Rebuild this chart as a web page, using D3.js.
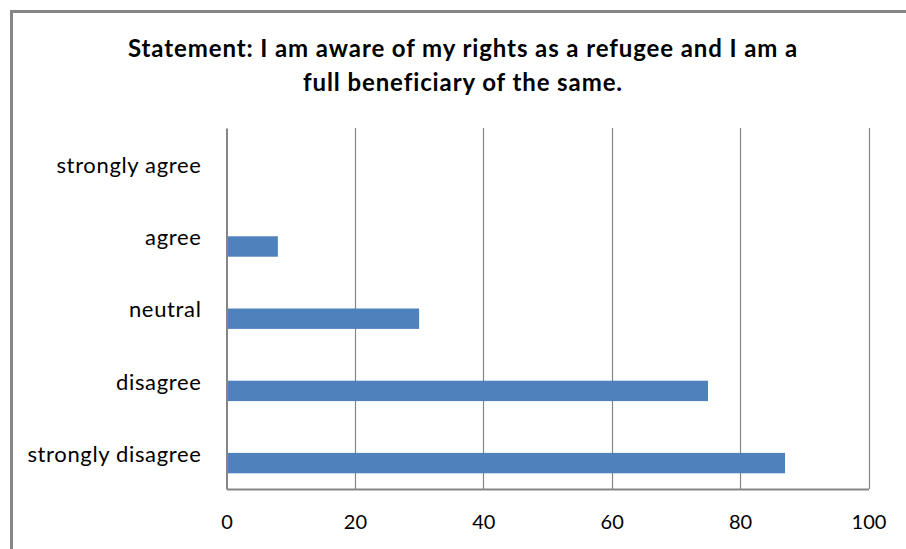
<!DOCTYPE html>
<html>
<head>
<meta charset="utf-8">
<script src="https://cdn.jsdelivr.net/npm/d3@7"></script>
<style>
  html, body { margin: 0; padding: 0; background: #fff; }
  svg { display: block; }
  text { font-family: Lato, "Open Sans", sans-serif; fill: #000; }
</style>
</head>
<body>
<svg id="chart" width="906" height="549"></svg>
<script>
// Responses per answer option
const categories = ["strongly agree", "agree", "neutral", "disagree", "strongly disagree"];
const counts = [0, 8, 30, 75, 87];
const xTicks = [0, 20, 40, 60, 80, 100];
const titleLines = [
  "Statement: I am aware of my rights as a refugee and I am a",
  "full beneficiary of the same."
];

const svg = d3.select("#chart");
const W = 906, H = 549;
const plot = { left: 226.5, right: 868.5, top: 128, bottom: 489 };
const gridColor = "#868686";
const barColor = "#4F81BD";

// Outer chart frame (runs off the right and bottom edges)
svg.append("rect")
  .attr("x", 11.5).attr("y", 11.5)
  .attr("width", W + 20).attr("height", H + 20)
  .attr("fill", "#fff")
  .attr("stroke", gridColor)
  .attr("stroke-width", 3);

const x = d3.scaleLinear().domain([0, 100]).range([plot.left, plot.right]);
const y = d3.scaleBand().domain(categories).range([plot.top, plot.bottom])
  .paddingInner(0.435).paddingOuter(0.2175);

// Vertical gridlines
svg.append("g")
  .selectAll("line")
  .data(xTicks.slice(1))
  .join("line")
  .attr("x1", d => Math.round(x(d)) + 0.5).attr("x2", d => Math.round(x(d)) + 0.5)
  .attr("y1", plot.top).attr("y2", plot.bottom)
  .attr("stroke", gridColor).attr("stroke-width", 1.2);

// Bars sit in the lower half of each category slot
svg.append("g")
  .selectAll("rect")
  .data(categories.map((c, i) => ({ c, v: counts[i] })))
  .join("rect")
  .attr("x", x(0))
  .attr("y", d => y(d.c) + y.bandwidth() / 2)
  .attr("width", d => x(d.v) - x(0))
  .attr("height", y.bandwidth() / 2)
  .attr("fill", barColor);

// Axes
const xAxis = d3.axisBottom(x).tickValues(xTicks).tickSize(0).tickPadding(26);
const gx = svg.append("g").attr("transform", `translate(0,${plot.bottom})`).call(xAxis);
gx.select(".domain").attr("stroke", gridColor).attr("stroke-width", 2);
gx.selectAll("text").attr("font-size", 20).attr("font-family", "Lato, sans-serif").attr("fill", "#000");

const yAxis = d3.axisLeft(y).tickSize(0).tickPadding(25);
const gy = svg.append("g").attr("transform", `translate(${plot.left},0)`).call(yAxis);
gy.select(".domain").attr("stroke", gridColor).attr("stroke-width", 2);
gy.selectAll("text").attr("font-size", 22).attr("font-family", "Lato, sans-serif")
  .attr("letter-spacing", "0.65px")
  .attr("fill", "#000").attr("dy", "0.4em");

// Title
const title = svg.append("g");
title.selectAll("text")
  .data(titleLines)
  .join("text")
  .attr("x", 463)
  .attr("y", (d, i) => 57 + i * 34)
  .attr("text-anchor", "middle")
  .attr("font-size", 24)
  .attr("letter-spacing", "0.9px")
  .attr("font-weight", "bold")
  .text(d => d);
</script>
</body>
</html>
